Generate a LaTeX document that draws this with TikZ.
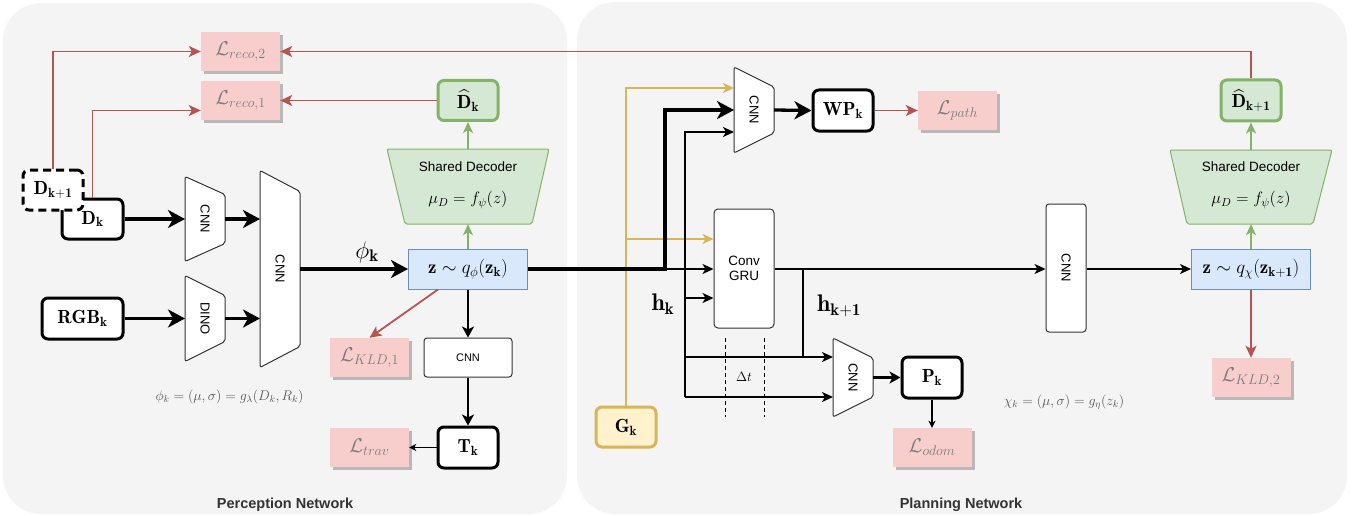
\RequirePackage{fix-cm}
\documentclass[tikz,border=0pt]{standalone}
\usepackage{fontspec}
\newfontfamily\hv{Liberation Sans}
\usetikzlibrary{arrows.meta,shadows,calc}
\definecolor{panel}{HTML}{F4F4F4}
\definecolor{lpink}{HTML}{F8CECC}
\definecolor{lred}{HTML}{B85450}
\definecolor{gfill}{HTML}{D5E8D4}
\definecolor{gline}{HTML}{82B366}
\definecolor{bfill}{HTML}{DAE8FC}
\definecolor{bline}{HTML}{6C8EBF}
\definecolor{yfill}{HTML}{FFF2CC}
\definecolor{yline}{HTML}{D6B656}
\definecolor{losstxt}{HTML}{7A7A7A}
\definecolor{formtxt}{HTML}{555555}
\definecolor{titlec}{HTML}{333333}
\definecolor{shadowc}{HTML}{B8B8B8}
\newcommand{\myfs}[1]{\fontsize{#1}{#1}\selectfont}
\newcommand{\trapv}[7]{%
  \draw[trapst] (#2-#4/2,#3-#5/2) -- (#2+#4/2,#3-#5/2+#6) -- (#2+#4/2,#3+#5/2-#6) -- (#2-#4/2,#3+#5/2) -- cycle;
  \node[minimum width=#4pt, minimum height=#5pt, inner sep=0pt, outer sep=0pt] (#1) at (#2,#3) {};
  \node[rotate=-90, font=\hv\myfs{13}] at (#2,#3) {#7};
}
\tikzset{
  trapst/.style={draw=black!80, fill=white, line width=1pt, rounded corners=2pt},
  thickbox/.style={draw=black, line width=3pt, fill=white, rounded corners=6pt, inner sep=0pt, font=\myfs{19}},
  lossbox/.style={fill=lpink, draw=none, inner sep=0pt, minimum width=79pt, minimum height=39pt,
    drop shadow={shadow xshift=3pt, shadow yshift=-3pt, fill=shadowc, opacity=1}, text=losstxt, font=\myfs{20}},
  zbox/.style={fill=bfill, draw=bline, line width=1pt, inner sep=0pt, minimum width=119pt, minimum height=40pt, font=\myfs{19}},
  gbox/.style={fill=gfill, draw=gline, line width=3pt, rounded corners=6pt, inner sep=0pt, minimum width=60pt, minimum height=40pt, font=\myfs{19}},
  decst/.style={fill=gfill, draw=gline, line width=1pt, rounded corners=2pt},
  thinbox/.style={draw=black!80, fill=white, line width=1pt, inner sep=0pt},
  thickarrow/.style={line width=3.3pt, -{Stealth[length=17pt,width=18pt,inset=5pt]}},
  medarrow/.style={line width=2.2pt, -{Stealth[length=11pt,width=12pt,inset=3pt]}},
  thinarrow/.style={line width=1.6pt, -{Stealth[length=11pt,width=10pt,inset=3pt]}},
  smallarrow/.style={line width=1.2pt, -{Stealth[length=7pt,width=7pt,inset=2pt]}},
  thinline/.style={line width=1.6pt},
  redarrow/.style={draw=lred, line width=1.8pt, -{Stealth[length=12pt,width=11pt,inset=3pt]}},
  greenarrow/.style={draw=gline, line width=1.8pt, -{Stealth[length=11pt,width=10pt,inset=3pt]}},
  yelarrow/.style={draw=yline, line width=1.8pt, -{Stealth[length=11pt,width=10pt,inset=3pt]}},
  dashline/.style={line width=1pt, dash pattern=on 4pt off 3pt},
  formula/.style={text=formtxt, font=\myfs{14}},
  biglabel/.style={font=\myfs{24}},
  title/.style={font=\hv\bfseries\myfs{14.5}, text=titlec}
}
\begin{document}
\begin{tikzpicture}[x=1pt,y=-1pt]
\useasboundingbox (0,0) rectangle (1364,516);
% panels
\fill[panel, rounded corners=38pt] (3,3) rectangle (567,514);
\fill[panel, rounded corners=38pt] (577,2) rectangle (1347,514);
\node[title] (tp) at (285,505) {Perception Network};
\node[title] (tn) at (961,505) {Planning Network};

% ---------- perception network ----------
\node[lossbox] (lreco2) at (240.5,51.5) {$\mathcal{L}_{reco,2}$};
\node[lossbox] (lreco1) at (240.5,100.5) {$\mathcal{L}_{reco,1}$};
\node[thickbox, minimum width=61pt, minimum height=40pt] (dk) at (92.5,219) {$\mathbf{D_k}$};
\node[thickbox, dash pattern=on 8pt off 5pt, minimum width=60pt, minimum height=40pt] (dk1) at (53,190) {$\mathbf{D_{k+1}}$};
\node[thickbox, minimum width=81pt, minimum height=41pt] (rgb) at (82.5,318.5) {$\mathbf{RGB_k}$};
\trapv{cnnA}{205}{219}{40}{85}{18}{CNN}
\trapv{dino}{205}{318.5}{40}{86}{20}{DINO}
\trapv{cnnBig}{280}{269}{40}{197}{21}{CNN}
\node[zbox] (zp) at (468,269) {$\mathbf{z}\sim q_\phi(\mathbf{z_k})$};
\draw[decst] (387,149) -- (549,149) -- (532,224) -- (405,224) -- cycle;
\node[minimum width=127pt, minimum height=75pt, inner sep=0pt] (decp) at (468,186.5) {};
\node[font=\hv\myfs{13.5}] (decpt) at (468,167) {Shared Decoder};
\node[font=\myfs{16.5}] (decpm) at (468,200) {$\mu_D = f_\psi(z)$};
\node[gbox] (dhk) at (468,100.5) {$\mathbf{\hat{D}_k}$};
\node[lossbox] (lkld1) at (369.5,357.5) {$\mathcal{L}_{KLD,1}$};
\node[thinbox, rounded corners=3pt, minimum width=88pt, minimum height=39pt, font=\hv\myfs{11}] (cnnp) at (468,357.5) {CNN};
\node[thickbox, minimum width=60pt, minimum height=41pt] (tk) at (468,447.5) {$\mathbf{T_k}$};
\node[lossbox] (ltrav) at (369.5,447.5) {$\mathcal{L}_{trav}$};
\node[formula] (f1) at (229.5,397) {$\phi_k = (\mu,\sigma) = g_\lambda(D_k,R_k)$};
\node[biglabel] (phik) at (367,252) {$\phi_{\mathbf{k}}$};

% ---------- planning network ----------
\node[thickbox, fill=yfill, draw=yline, minimum width=60pt, minimum height=40pt] (gk) at (626,427) {$\mathbf{G_k}$};
\trapv{cnnU}{754}{110}{40}{86}{20}{CNN}
\node[thickbox, minimum width=60pt, minimum height=41pt] (wp) at (843,110.5) {$\mathbf{WP_k}$};
\node[lossbox] (lpath) at (957.5,110.5) {$\mathcal{L}_{path}$};
\node[thinbox, rounded corners=4pt, minimum width=60pt, minimum height=119pt, font=\hv\myfs{13.5}, align=center] (gru) at (744,268.5) {Conv\\[1pt]GRU};
\trapv{cnnL}{853}{377.5}{40}{79}{20}{CNN}
\node[thickbox, minimum width=60pt, minimum height=41pt] (pk) at (932,377.5) {$\mathbf{P_k}$};
\node[lossbox] (lodom) at (932,447.5) {$\mathcal{L}_{odom}$};
\node[thinbox, rounded corners=3pt, minimum width=40pt, minimum height=128pt] (cnnR) at (1066,268) {};
\node[rotate=-90, font=\hv\myfs{13}] (cnnRt) at (1066,268) {CNN};
\node[zbox] (zr) at (1251,269) {$\mathbf{z}\sim q_\chi(\mathbf{z_{k+1}})$};
\draw[decst] (1170,150) -- (1332,150) -- (1313,224) -- (1187,224) -- cycle;
\node[minimum width=126pt, minimum height=74pt, inner sep=0pt] (decr) at (1251,187) {};
\node[font=\hv\myfs{13.5}] (decrt) at (1251,167) {Shared Decoder};
\node[font=\myfs{16.5}] (decrm) at (1251,200) {$\mu_D = f_\psi(z)$};
\node[gbox, minimum height=41pt] (dhk1) at (1251,100.5) {$\mathbf{\hat{D}_{k+1}}$};
\node[lossbox] (lkld2) at (1251,377.5) {$\mathcal{L}_{KLD,2}$};
\node[formula] (f2) at (1064,402) {$\chi_k = (\mu,\sigma) = g_\eta(z_k)$};
\node[biglabel] (hk) at (663,304) {$\mathbf{h_k}$};
\node[biglabel] (hk1) at (839,306) {$\mathbf{h_{k+1}}$};
\node[font=\myfs{13.5}] (dt) at (744,377) {$\Delta t$};

% ---------- coordinates ----------
\coordinate (j1) at (665,269);
\coordinate (ya) at (626,88);
\coordinate (yb) at (626,239);
\coordinate (hka) at (685,132);
\coordinate (hkb) at (685,298);
\coordinate (hkc) at (685,357);
\coordinate (hkd) at (685,397);
\coordinate (j2) at (803,269);
\coordinate (j3) at (803,357);

% ---------- connectors ----------
\draw[yelarrow] (gk.north) -- (ya) -- (cnnU.west |- ya);
\draw[yelarrow] (yb) -- (gru.west |- yb);

\draw[thickarrow] (dk.east) -- (dk.east -| cnnA.west);
\draw[thickarrow] (cnnA.east) -- (cnnA.east -| cnnBig.west);
\draw[thickarrow] (rgb.east) -- (rgb.east -| dino.west);
\draw[thickarrow] (dino.east) -- (dino.east -| cnnBig.west);
\draw[thickarrow] (cnnBig.east) -- (zp.west);
\draw[thickarrow] (zp.east) -- (j1) |- (cnnU.west);
\draw[thinarrow] (j1) -- (gru.west |- j1);
\draw[thickarrow] (cnnU.east) -- (wp.west);
\draw[thinarrow] (gru.east |- j1) -- (cnnR.west |- j1);
\draw[thinarrow] (cnnR.east |- j1) -- (zr.west);
\draw[thinline] (j2) -- (j3);
\draw[thinarrow] (hkd) -- (hka) -- (cnnU.west |- hka);
\draw[thinarrow] (hkb) -- (gru.west |- hkb);
\draw[thinarrow] (hkc) -- (cnnL.west |- hkc);
\draw[thinarrow] (hkd) -- (cnnL.west |- hkd);
\draw[medarrow] (cnnL.east) -- (pk.west);
\draw[smallarrow] (pk.south) -- (lodom.north);
\draw[medarrow] (zp.south) -- (cnnp.north);
\draw[medarrow] (cnnp.south) -- (tk.north);
\draw[smallarrow] (tk.west) -- (ltrav.east);
\draw[dashline] (725,338) -- (725,417);
\draw[dashline] (764,338) -- (764,417);

\draw[redarrow] (dk1.north) |- (lreco2.west);
\draw[redarrow] (dk.north) |- ($(lreco1.west)+(0,10)$);
\draw[redarrow] (dhk.west) -- (lreco1.east);
\draw[redarrow] (dhk1.north) |- (lreco2.east);
\draw[redarrow] ($(zp.south west)+(30,0)$) -- (lkld1.north);
\draw[redarrow] (wp.east) -- (lpath.west);
\draw[redarrow] (zr.south) -- (lkld2.north);

\draw[greenarrow] (zp.north) -- (zp.north |- decp.south);
\draw[greenarrow] (decp.north) -- (dhk.south);
\draw[greenarrow] (zr.north) -- (zr.north |- decr.south);
\draw[greenarrow] (decr.north) -- (dhk1.south);
\end{tikzpicture}
\end{document}
